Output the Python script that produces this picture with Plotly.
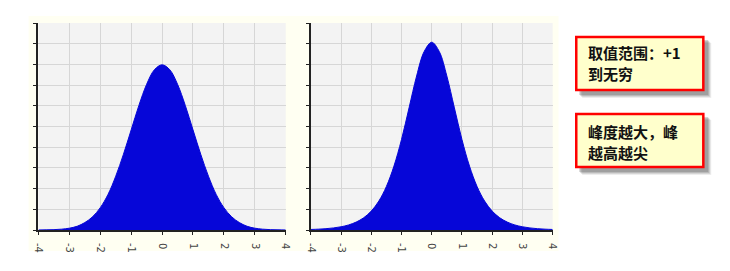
import plotly.graph_objects as go

W, H = 730, 271

# x positions (shared by both curves)
x_vals = [-4.0, -3.75, -3.5, -3.25, -3.0, -2.75, -2.5, -2.25, -2.0, -1.75, -1.5, -1.25, -1.0, -0.75, -0.5, -0.25,
          0.0, 0.25, 0.5, 0.75, 1.0, 1.25, 1.5, 1.75, 2.0, 2.25, 2.5, 2.75, 3.0, 3.25, 3.5, 3.75, 4.0]
# left panel (normal-shaped) density values
left_vals = [0.0001, 0.0004, 0.0009, 0.002, 0.0044, 0.009, 0.018, 0.032, 0.054, 0.086, 0.130, 0.183, 0.242, 0.301, 0.352, 0.387,
             0.399, 0.387, 0.352, 0.301, 0.242, 0.183, 0.130, 0.086, 0.054, 0.032, 0.018, 0.009, 0.0044, 0.002, 0.0009, 0.0004, 0.0001]
# right panel (peaked, heavier tails) density values
right_vals = [0.0013, 0.0020, 0.0032, 0.0050, 0.0078, 0.0122, 0.0191, 0.0296, 0.0457, 0.0699, 0.1051, 0.1543, 0.2186, 0.295, 0.372, 0.431,
              0.4535, 0.431, 0.372, 0.295, 0.2186, 0.1543, 0.1051, 0.0699, 0.0457, 0.0296, 0.0191, 0.0122, 0.0078, 0.0050, 0.0032, 0.0020, 0.0013]

x_ticks = [-4, -3, -2, -1, 0, 1, 2, 3, 4]
x_tick_text = ["-4", "-3", "-2", "-1", "0", "1", "2", "3", "4"]
y_ticks = [0, 0.05, 0.1, 0.15, 0.2, 0.25, 0.3, 0.35, 0.4, 0.45, 0.5]

note1_lines = ["取值范围：+1", "到无穷"]
note2_lines = ["峰度越大，峰", "越高越尖"]

BLUE = "#0606D8"


def px(x):
    return x / W


def py(y):
    return 1 - y / H


fig = go.Figure()
fig.add_trace(go.Scatter(x=x_vals, y=left_vals, mode="lines", line=dict(shape="spline", color=BLUE, width=1),
                         fill="tozeroy", fillcolor=BLUE, xaxis="x", yaxis="y", hoverinfo="skip"))
fig.add_trace(go.Scatter(x=x_vals, y=right_vals, mode="lines", line=dict(shape="spline", color=BLUE, width=1),
                         fill="tozeroy", fillcolor=BLUE, xaxis="x2", yaxis="y2", hoverinfo="skip"))

xcommon = dict(range=[-4, 4], tickvals=x_ticks, ticktext=x_tick_text, tickangle=90,
               showgrid=True, gridcolor="#D6D6D6", gridwidth=1, zeroline=False,
               showline=True, linecolor="#222", linewidth=2, ticks="outside", ticklen=3, tickcolor="#222",
               ticklabelstandoff=6,
               tickfont=dict(family="DejaVu Sans", size=10, color="#444"), fixedrange=True)
ycommon = dict(range=[0, 0.5], tickvals=y_ticks, showticklabels=False,
               showgrid=True, gridcolor="#D6D6D6", gridwidth=1, zeroline=False,
               showline=True, linecolor="#222", linewidth=2, ticks="outside", ticklen=3, tickcolor="#222",
               fixedrange=True)

fig.update_layout(
    width=W, height=H, margin=dict(l=0, r=0, t=0, b=0),
    paper_bgcolor="white", plot_bgcolor="#F3F3F3", showlegend=False,
    xaxis=dict(domain=[px(34), px(285)], anchor="y", **xcommon),
    yaxis=dict(domain=[py(230), py(23)], anchor="x", **ycommon),
    xaxis2=dict(domain=[px(310.5), px(556)], anchor="y2", **xcommon),
    yaxis2=dict(domain=[py(230), py(23)], anchor="x2", **ycommon),
)

shapes = [
    dict(type="rect", xref="paper", yref="paper", x0=px(24), x1=px(562), y0=py(251), y1=py(16),
         fillcolor="#FFFFF2", line=dict(width=0), layer="below"),
    dict(type="rect", xref="x domain", yref="y domain", x0=0, x1=1, y0=0, y1=1,
         fillcolor="#F3F3F3", line=dict(width=0), layer="below"),
    dict(type="rect", xref="x2 domain", yref="y2 domain", x0=0, x1=1, y0=0, y1=1,
         fillcolor="#F3F3F3", line=dict(width=0), layer="below"),
]
for (top, bot) in [(36, 91), (113, 168)]:
    for off, op in [(7, 0.10), (6, 0.15), (5, 0.2), (4, 0.25)]:
        shapes.append(dict(type="rect", xref="paper", yref="paper",
                           x0=px(579 + off), x1=px(710 + off), y0=py(bot + off), y1=py(top + off),
                           fillcolor="rgba(80,80,80,%s)" % op, line=dict(width=0), layer="above"))
    shapes.append(dict(type="rect", xref="paper", yref="paper",
                       x0=px(580), x1=px(709), y0=py(bot - 1), y1=py(top + 1),
                       fillcolor="#FFFFCC", line=dict(color="#FF0000", width=2.5), layer="above"))
fig.update_layout(shapes=shapes)

for lines, cy in [(note1_lines, 63), (note2_lines, 142)]:
    for i, line in enumerate(lines):
        fig.add_annotation(xref="paper", yref="paper", x=px(591), y=py(cy - 10.5 + 21 * i),
                           xanchor="left", yanchor="middle",
                           text="<b>%s</b>" % line, showarrow=False, align="left", borderpad=0,
                           font=dict(family="Noto Sans CJK SC", size=15, color="#111"))

fig.write_html("out.html")
